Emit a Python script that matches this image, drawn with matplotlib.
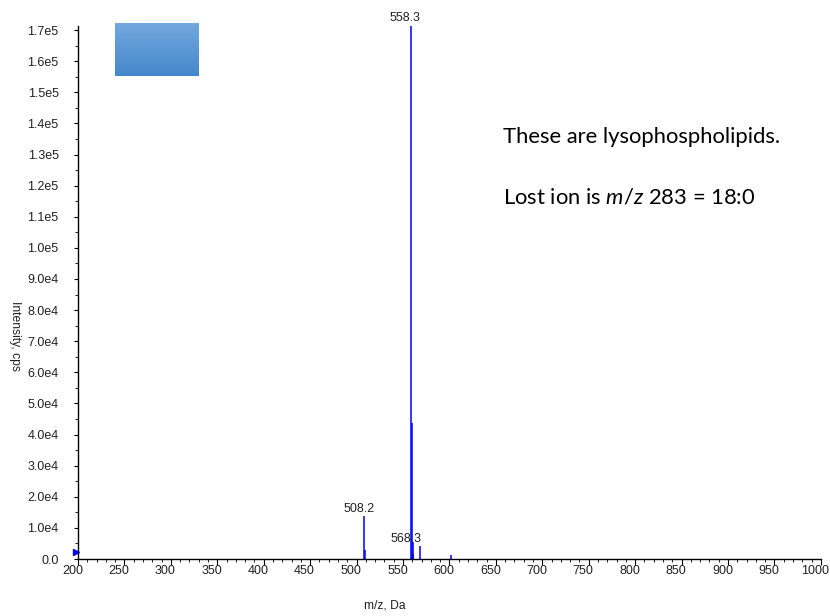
"""MS/MS product-ion spectrum of a lysophospholipid, with note text.

Output: out.png
"""

import matplotlib

matplotlib.use("Agg")
import matplotlib.pyplot as plt
import matplotlib.transforms as mtransforms
import numpy as np
from matplotlib.ticker import FuncFormatter, MultipleLocator

# peak m/z and intensity (cps)
PEAK_MZ = [508.2, 509.3, 558.3, 559.4, 560.3, 561.2, 568.3, 601.5]
PEAK_INT = [1.38e4, 2.9e3, 1.715e5, 4.38e4, 5.5e3, 1.5e3, 4.2e3, 1.3e3]

# labelled peaks: (m/z, intensity, text)
LABEL_MZ = [508.2, 558.3, 568.3]
LABEL_INT = [1.38e4, 1.715e5, 4.2e3]
LABEL_TEXT = ["508.2", "558.3", "568.3"]
LABEL_SHIFT = [0, 0, -6]   # horizontal nudge in points

NOTE_LINE1 = "These are lysophospholipids."
NOTE_LINE2 = r"Lost ion is $m/z$ 283 = 18:0"

BLUE = "#0000ff"
TEXT = "#222222"
SANS = "Liberation Sans"

plt.rcParams["font.family"] = SANS
plt.rcParams["mathtext.fontset"] = "custom"
plt.rcParams["mathtext.rm"] = "Lato"
plt.rcParams["mathtext.it"] = "Lato:italic"


def sci_fmt(v, _pos):
    if v == 0:
        return "0.0"
    exp = int(np.floor(np.log10(abs(v))))
    return f"{v / 10 ** exp:.1f}e{exp}"


def main() -> None:
    fig = plt.figure(figsize=(8.3, 6.16), dpi=100)
    ax = fig.add_axes([0.094, 0.0925, 0.895, 0.8653])

    ax.vlines(PEAK_MZ, 0, PEAK_INT, color=BLUE, linewidth=1.1)
    for mz, inten, txt, dx in zip(LABEL_MZ, LABEL_INT, LABEL_TEXT, LABEL_SHIFT):
        ax.annotate(txt, (mz, inten), xytext=(dx - 4, 1), textcoords="offset points",
                    ha="center", va="bottom", fontsize=9, color=TEXT,
                    annotation_clip=False)

    # precursor marker on the left edge
    ax.plot([197.8], [2.1e3], marker=">", markersize=5, color=BLUE,
            linestyle="none", clip_on=False)

    ax.set_xlim(200, 1000)
    ax.set_ylim(0, 1.713e5)
    ax.xaxis.set_major_locator(MultipleLocator(50))
    ax.xaxis.set_minor_locator(MultipleLocator(10))
    ax.yaxis.set_major_locator(MultipleLocator(1e4))
    ax.yaxis.set_minor_locator(MultipleLocator(5e3))
    ax.yaxis.set_major_formatter(FuncFormatter(sci_fmt))

    for side in ("top", "right"):
        ax.spines[side].set_visible(False)
    for side in ("left", "bottom"):
        ax.spines[side].set_linewidth(1.0)
        ax.spines[side].set_color("black")

    ax.tick_params(axis="x", which="major", direction="out", length=4, width=0.8,
                   pad=0.5, labelsize=9, labelcolor=TEXT)
    ax.tick_params(axis="x", which="minor", direction="out", length=2, width=0.6)
    ax.tick_params(axis="y", which="major", direction="out", length=3, width=0.8,
                   pad=11, labelsize=9, labelcolor=TEXT)
    ax.tick_params(axis="y", which="minor", direction="out", length=2, width=0.6)

    # the instrument software draws tick labels a few pixels left of the tick
    shift = mtransforms.ScaledTranslation(-4 / 72, 0, fig.dpi_scale_trans)
    for lab in ax.get_xticklabels():
        lab.set_transform(lab.get_transform() + shift)

    fig.text(0.018, 0.455, "Intensity, cps", rotation=270, ha="center", va="center",
             fontsize=8.7, color=TEXT)
    fig.text(0.464, 0.017, "m/z, Da", ha="center", va="center", fontsize=8.7, color=TEXT)

    fig.text(503 / 830, 1 - 143 / 616, NOTE_LINE1, fontsize=15.8, family="Lato",
             ha="left", va="baseline", color="black")
    fig.text(503 / 830, 1 - 203 / 616, NOTE_LINE2, fontsize=15.8, family="Lato",
             ha="left", va="baseline", color="black")

    # gradient blue box in the upper left
    box = fig.add_axes([115 / 830, 1 - 76 / 616, 84 / 830, 53 / 616])
    top = np.array([0.45, 0.66, 0.87])
    bottom = np.array([0.27, 0.53, 0.80])
    t = np.linspace(0, 1, 64)[:, None, None]
    grad = top * (1 - t) + bottom * t
    box.imshow(np.repeat(grad, 2, axis=1), aspect="auto", interpolation="bilinear")
    box.axis("off")

    fig.savefig("out.png", dpi=100)
    plt.close(fig)


if __name__ == "__main__":
    main()
